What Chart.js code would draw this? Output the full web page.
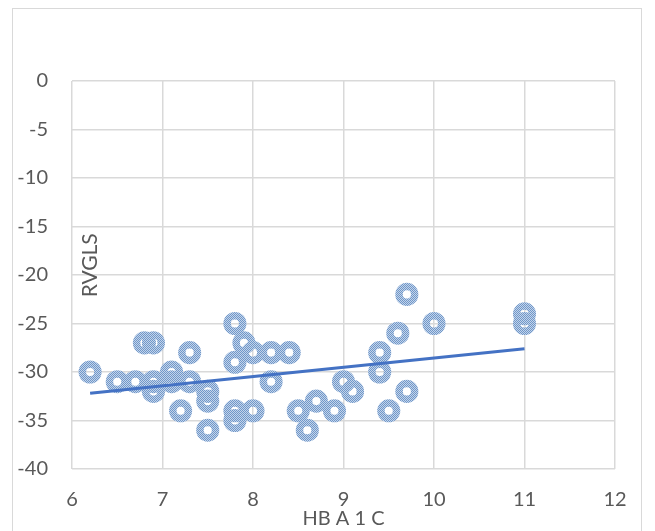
<!DOCTYPE html>
<html>
<head>
<meta charset="utf-8">
<script src="https://cdn.jsdelivr.net/npm/chart.js@4"></script>
<style>
  html, body { margin: 0; padding: 0; background: #fff; overflow: hidden; }
  #frame { position: absolute; left: 12px; top: 8px; width: 630px; height: 600px; border: 1.5px solid #d9d9d9; box-sizing: border-box; }
  #chart { position: absolute; left: 0; top: 0; }
</style>
</head>
<body>
<div id="frame"></div>
<canvas id="chart" width="655" height="531"></canvas>
<script>
// data
const hba1c = [6.2, 6.5, 6.7, 6.8, 6.9, 6.9, 6.9, 7.1, 7.1, 7.2, 7.3, 7.3, 7.5, 7.5, 7.5, 7.8, 7.8, 7.8, 7.8, 7.9,
               8.0, 8.0, 8.2, 8.2, 8.4, 8.5, 8.6, 8.7, 8.9, 9.0, 9.1, 9.4, 9.4, 9.5, 9.6, 9.7, 9.7, 10.0, 11.0, 11.0];
const rvgls = [-30, -31, -31, -27, -27, -31, -32, -30, -31, -34, -28, -31, -32, -33, -36, -25, -29, -34, -35, -27,
               -28, -34, -28, -31, -28, -34, -36, -33, -34, -31, -32, -28, -30, -34, -26, -22, -32, -25, -24, -25];
const trendX = [6.2, 11];
const trendY = [-32.2, -27.6];
const xTicks = [6, 7, 8, 9, 10, 11, 12];
const yTicks = [0, -5, -10, -15, -20, -25, -30, -35, -40];

const FONT = 'Lato';
const TXT = '#595959';

// dotted fill like the excel marker pattern
function makePattern() {
    const c = document.createElement('canvas');
    c.width = 2; c.height = 2;
    const g = c.getContext('2d');
    g.fillStyle = '#c3d4ea';
    g.fillRect(0, 0, 2, 2);
    g.fillStyle = '#7097c9';
    g.fillRect(0, 0, 1, 1);
    g.fillRect(1, 1, 1, 1);
    return g.createPattern(c, 'repeat');
}
const ringPattern = makePattern();

// y label sits inside the plot area
const innerLabel = {
    id: 'innerLabel',
    beforeDatasetsDraw(chart) {
        const { ctx, chartArea, scales } = chart;
        ctx.save();
        ctx.translate(chartArea.left + 18, scales.y.getPixelForValue(-19));
        ctx.rotate(-Math.PI / 2);
        ctx.font = '21px ' + FONT;
        ctx.fillStyle = TXT;
        ctx.textAlign = 'center';
        ctx.textBaseline = 'middle';
        ctx.fillText('RVGLS', 0, 0);
        ctx.restore();
    }
};

const points = hba1c.map((x, i) => ({ x: x, y: rvgls[i] }));
const trend = trendX.map((x, i) => ({ x: x, y: trendY[i] }));

new Chart(document.getElementById('chart'), {
    type: 'scatter',
    data: {
        datasets: [
            {
                type: 'line',
                data: trend,
                borderColor: '#4472c4',
                borderWidth: 3,
                pointRadius: 0,
                fill: false,
                order: 0
            },
            {
                data: points,
                pointRadius: 7.8,
                pointBorderWidth: 7.5,
                pointBackgroundColor: 'rgba(0,0,0,0)',
                pointBorderColor: ringPattern,
                order: 1
            }
        ]
    },
    options: {
        responsive: false,
        animation: false,
        devicePixelRatio: 1,
        layout: { padding: { left: 0, top: 81, right: 40, bottom: 0 } },
        plugins: { legend: { display: false }, tooltip: { enabled: false } },
        scales: {
            x: {
                type: 'linear',
                min: 6, max: 12,
                afterBuildTicks: s => { s.ticks = xTicks.map(v => ({ value: v })); },
                afterFit: s => { s.height = 62; },
                grid: { color: '#d9d9d9', lineWidth: 1.5, drawTicks: false },
                border: { display: false },
                ticks: { color: TXT, font: { family: FONT, size: 20 }, padding: 19 },
                title: { display: true, text: 'HB A 1 C', color: TXT, font: { family: FONT, size: 20 }, padding: 0 }
            },
            y: {
                type: 'linear',
                min: -40, max: 0,
                afterBuildTicks: s => { s.ticks = yTicks.map(v => ({ value: v })); },
                afterFit: s => { s.width = 72; },
                grid: { color: '#d9d9d9', lineWidth: 1.5, drawTicks: false },
                border: { display: false },
                ticks: { color: TXT, font: { family: FONT, size: 20 }, padding: 24 }
            }
        }
    },
    plugins: [innerLabel]
});
</script>
</body>
</html>
